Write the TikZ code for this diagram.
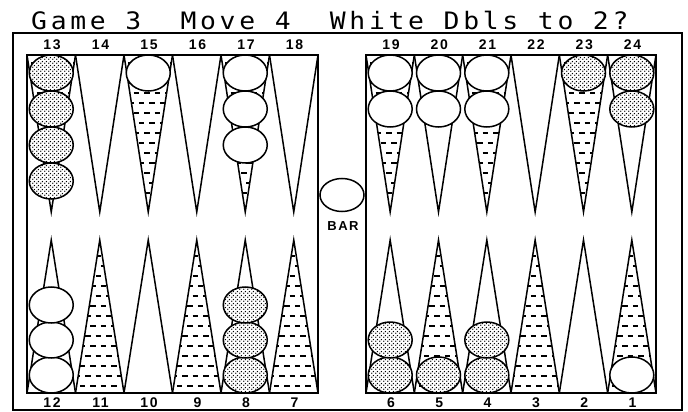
\documentclass[tikz,border=0pt]{standalone}
\usepackage{fontspec}
\setmainfont{Liberation Sans}
\newfontfamily\titlefont[LetterSpace=14]{DejaVu Sans Mono}
\newfontfamily\labelfont[LetterSpace=12]{Liberation Sans}
\usetikzlibrary{patterns}
\pgfdeclarepatternformonly{stipple}{\pgfqpoint{0pt}{0pt}}{\pgfqpoint{3.6pt}{3.6pt}}{\pgfqpoint{3.6pt}{3.6pt}}{%
  \pgfpathcircle{\pgfqpoint{0.9pt}{0.9pt}}{0.78pt}%
  \pgfpathcircle{\pgfqpoint{2.7pt}{2.7pt}}{0.78pt}%
  \pgfusepath{fill}}
\begin{document}
\begin{tikzpicture}[x=1pt,y=-1pt,
  boardline/.style={line width=1.8pt},
  pointline/.style={line width=1.5pt, line join=miter},
  dashrow/.style={line width=2pt, dash pattern=on 5.5pt off 5pt},
  whitechk/.style={draw, line width=1.5pt, fill=white},
  darkchk/.style={draw, line width=1.5pt, preaction={fill=white}, pattern=stipple},
  numlabel/.style={font=\labelfont\bfseries\fontsize{14}{14}\selectfont, inner sep=0pt},
  titletext/.style={font=\titlefont\fontsize{24}{24}\selectfont, inner sep=0pt, anchor=base west}]
\useasboundingbox (0,0) rectangle (688,412);
\fill[white] (0,0) rectangle (688,412);
% title
\node[titletext] (title) at (31,30) {\scalebox{1.1}[1]{Game 3\ \ Move 4\ \ White Dbls to 2?}};
% outer frame and boards
\draw[boardline] (13,33) rectangle (682,410);
\draw[boardline] (27,55) rectangle (318,393);
\draw[boardline] (366,55) rectangle (656,393);
% ---- points ----
\foreach \i in {0,...,5}{
  \foreach \bx/\w in {27/48.5,366/48.33}{
    \pgfmathsetmacro{\xa}{\bx+\w*\i}
    \pgfmathsetmacro{\xb}{\bx+\w*(\i+1)}
    \pgfmathsetmacro{\xc}{\bx+\w*(\i+0.5)}
    \pgfmathtruncatemacro{\odd}{mod(\i,2)}
    \ifnum\odd=0
      \begin{scope}
        \clip (\xa,55) -- (\xb,55) -- (\xc,212) -- cycle;
        \foreach \r [count=\k] in {63,73,...,212}{
          \pgfmathsetmacro{\ph}{mod(\k,2)*5.2+1}
          \draw[dashrow, dash phase=\ph pt] (\xa,\r) -- (\xb,\r);
        }
      \end{scope}
    \else
      \begin{scope}
        \clip (\xa,393) -- (\xb,393) -- (\xc,240) -- cycle;
        \foreach \r [count=\k] in {386,376,...,240}{
          \pgfmathsetmacro{\ph}{mod(\k,2)*5.2+1}
          \draw[dashrow, dash phase=\ph pt] (\xa,\r) -- (\xb,\r);
        }
      \end{scope}
    \fi
    \draw[pointline] (\xa,55) -- (\xc,212) -- (\xb,55);
    \draw[pointline] (\xa,393) -- (\xc,240) -- (\xb,393);
  }
}
% ---- labels ----
\foreach \n/\x in {13/52,14/100.5,15/149,16/197.5,17/246,18/294.5,
                   19/391,20/439.3,21/487.6,22/536,23/584.3,24/632.6}{
  \node[numlabel] (t\n) at (\x,45) {\n};
}
\foreach \n/\x in {12/52,11/100.5,10/149,9/197.5,8/246,7/294.5,
                   6/391,5/439.3,4/487.6,3/536,2/584.3,1/632.6}{
  \node[numlabel] (b\n) at (\x,403) {\n};
}
% ---- checkers ----
\foreach \x/\k/\s in {51.25/0/darkchk,51.25/1/darkchk,51.25/2/darkchk,51.25/3/darkchk,
                      148.25/0/whitechk,
                      245.25/0/whitechk,245.25/1/whitechk,245.25/2/whitechk,
                      390.2/0/whitechk,390.2/1/whitechk,
                      438.5/0/whitechk,438.5/1/whitechk,
                      486.8/0/whitechk,486.8/1/whitechk,
                      583.5/0/darkchk,
                      631.8/0/darkchk,631.8/1/darkchk}{
  \draw[\s] (\x,{73+36*\k}) ellipse (22 and 18);
}
\foreach \x/\k/\s in {51.25/0/whitechk,51.25/1/whitechk,51.25/2/whitechk,
                      245.25/0/darkchk,245.25/1/darkchk,245.25/2/darkchk,
                      390.2/0/darkchk,390.2/1/darkchk,
                      438.5/0/darkchk,
                      486.8/0/darkchk,486.8/1/darkchk,
                      631.8/0/whitechk}{
  \draw[\s] (\x,{375-35*\k}) ellipse (22 and 18);
}
% bar
\draw[whitechk] (342,195) ellipse (22 and 16.5);
\node[numlabel, font=\labelfont\bfseries\fontsize{13}{13}\selectfont] (bar) at (343,226) {BAR};
\end{tikzpicture}
\end{document}
